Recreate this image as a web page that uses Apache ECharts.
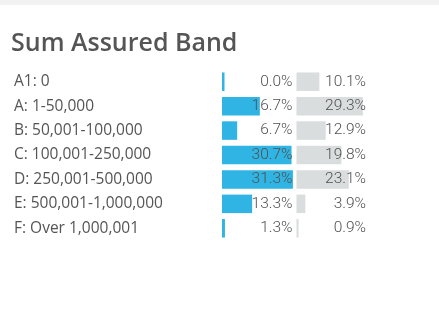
<!DOCTYPE html>
<html>
<head>
<meta charset="utf-8" />
<title>Sum Assured Band</title>
<script src="https://cdn.jsdelivr.net/npm/echarts@6/dist/echarts.min.js"></script>
</head>
<body style="margin:0;background:#fff">
<div id="main" style="width:439px;height:312px"></div>
<script type="text/javascript">
// bands, top to bottom
var bands = ['A1: 0', 'A: 1-50,000', 'B: 50,001-100,000', 'C: 100,001-250,000',
             'D: 250,001-500,000', 'E: 500,001-1,000,000', 'F: Over 1,000,001'];
// percent values
var bluePct = [0.0, 16.7, 6.7, 30.7, 31.3, 13.3, 1.3];
var greyPct = [10.1, 29.3, 12.9, 19.8, 23.1, 3.9, 0.9];
var axisMax = 32;

var full = bands.map(function () { return axisMax; });

var chart = echarts.init(document.getElementById('main'), null, { renderer: 'canvas' });

function pctLabel(arr, dist) {
    return {
        show: true,
        position: 'insideRight',
        distance: dist,
        fontFamily: 'Roboto',
        fontWeight: 300,
        fontSize: 15.5,
        color: '#505050',
        formatter: function (p) { return arr[p.dataIndex].toFixed(1) + '%'; }
    };
}

var option = {
    animation: false,
    graphic: [
        { type: 'rect', shape: { x: 0, y: 0, width: 439, height: 5 }, style: { fill: '#f2f2f2' } },
        {
            type: 'text', left: 11, top: 31,
            style: { text: 'Sum Assured Band', fontFamily: 'Open Sans', fontWeight: 600, fontSize: 25, fill: '#555' }
        }
    ],
    grid: [
        { left: 222, top: 69.5, width: 72.5, height: 171 },
        { left: 296.5, top: 69.5, width: 72.5, height: 171 }
    ],
    xAxis: [
        { gridIndex: 0, type: 'value', min: 0, max: axisMax, show: false },
        { gridIndex: 1, type: 'value', min: 0, max: axisMax, show: false }
    ],
    yAxis: [
        {
            gridIndex: 0, type: 'category', data: bands, inverse: true,
            axisLine: { show: false }, axisTick: { show: false },
            axisLabel: { align: 'left', margin: 208, fontFamily: 'Open Sans', fontSize: 15.5, color: '#555' }
        },
        {
            gridIndex: 1, type: 'category', data: bands, inverse: true,
            axisLine: { show: false }, axisTick: { show: false }, axisLabel: { show: false }
        }
    ],
    series: [
        {
            type: 'bar', xAxisIndex: 0, yAxisIndex: 0, data: bluePct,
            barWidth: 18.5, barMinHeight: 2.5, itemStyle: { color: '#2fb4e3' }
        },
        {
            type: 'bar', xAxisIndex: 0, yAxisIndex: 0, data: full, z: 5,
            barWidth: 18.5, barGap: '-100%', itemStyle: { color: 'rgba(0,0,0,0)' },
            label: pctLabel(bluePct, 2), silent: true
        },
        {
            type: 'bar', xAxisIndex: 1, yAxisIndex: 1, data: greyPct,
            barWidth: 18.5, barMinHeight: 2, itemStyle: { color: '#d9dddd' }
        },
        {
            type: 'bar', xAxisIndex: 1, yAxisIndex: 1, data: full, z: 5,
            barWidth: 18.5, barGap: '-100%', itemStyle: { color: 'rgba(0,0,0,0)' },
            label: pctLabel(greyPct, 3), silent: true
        }
    ]
};
chart.setOption(option);
</script>
</body>
</html>
